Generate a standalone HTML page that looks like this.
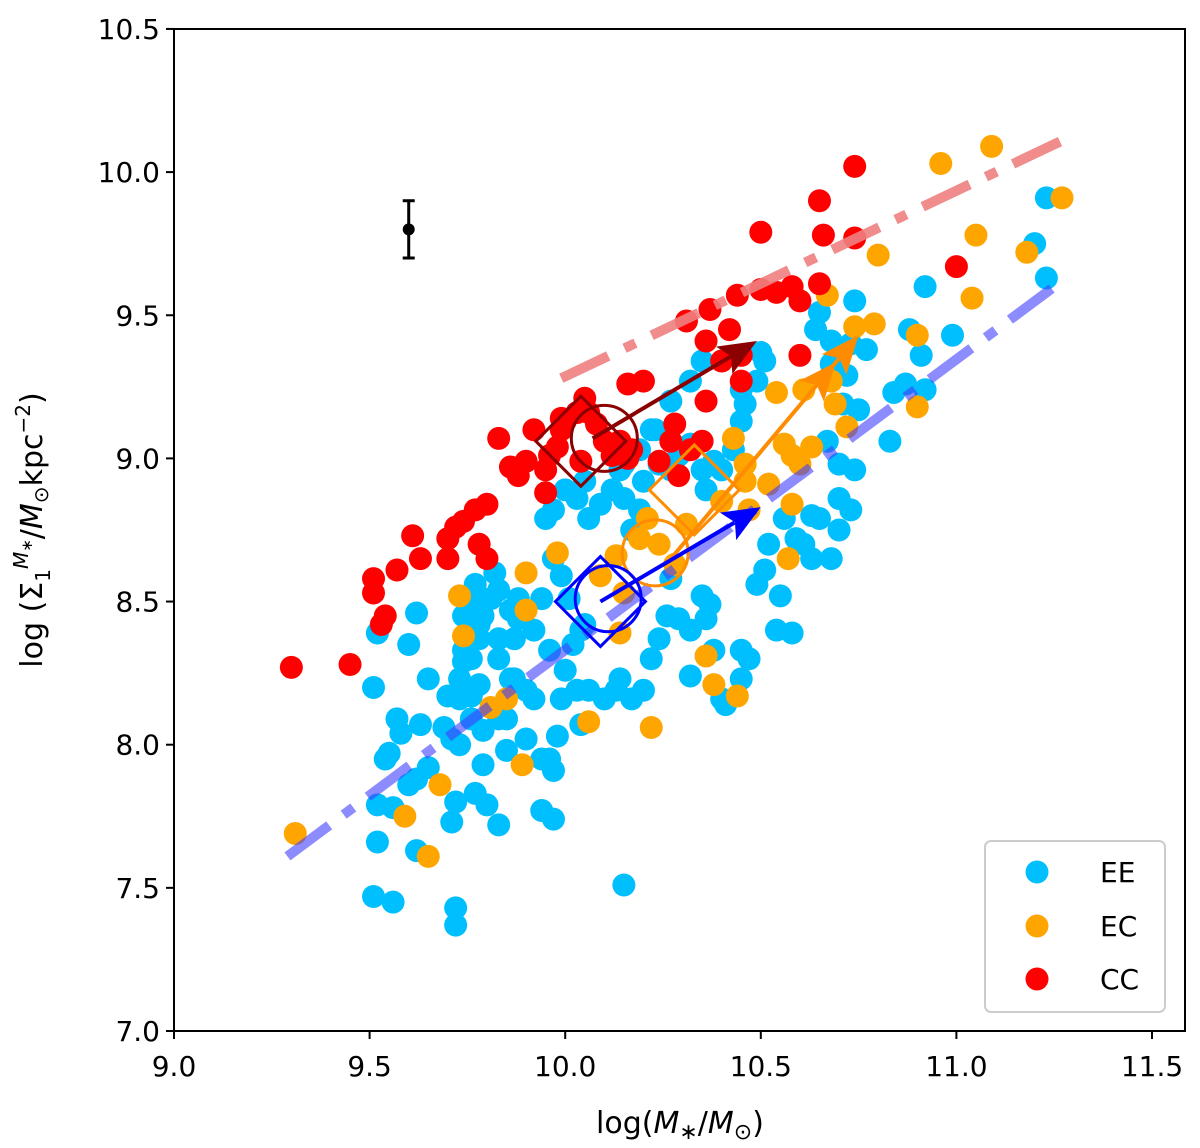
<!DOCTYPE html>
<html><head><meta charset="utf-8"><style>
html,body{margin:0;padding:0;background:#fff;}
svg{display:block;font-family:"DejaVu Sans","Liberation Sans",sans-serif;}
</style></head><body>
<svg id="chart" width="1200" height="1148" viewBox="0 0 1200 1148" xmlns="http://www.w3.org/2000/svg">
<g id="plot"></g>
</svg>
<script>
const xTicks=[9.0,9.5,10.0,10.5,11.0,11.5];
const yTicks=[7.0,7.5,8.0,8.5,9.0,9.5,10.0,10.5];
const ccX=[9.30,9.45,9.51,9.57,9.51,9.54,9.53,9.61,9.63,9.70,9.70,9.72,9.74,9.77,9.80,9.78,9.80,9.83,9.86,9.88,9.90,9.92,9.95,9.95,9.96,9.98,9.99,10.00,10.03,10.05,10.08,10.10,10.04,10.14,10.17,10.16,10.20,10.24,10.28,10.31,10.36,10.37,10.42,10.40,10.45,10.36,10.35,10.32,10.45,10.44,10.50,10.54,10.58,10.60,10.50,10.65,10.60,10.65,10.66,10.74,10.74,11.00,9.99,10.06,10.27,10.29,10.12,10.16];
const ccY=[8.27,8.28,8.58,8.61,8.53,8.45,8.42,8.73,8.65,8.65,8.72,8.76,8.78,8.82,8.84,8.70,8.65,9.07,8.97,8.94,8.99,9.10,8.88,8.96,9.01,9.04,9.10,9.13,9.16,9.21,9.12,9.06,8.99,9.06,9.03,9.26,9.27,8.99,9.12,9.48,9.41,9.52,9.45,9.34,9.27,9.20,9.06,9.03,9.36,9.57,9.59,9.58,9.60,9.55,9.79,9.61,9.36,9.90,9.78,9.77,10.02,9.67,9.14,9.16,9.06,8.94,9.01,9.00];
const ecX=[9.31,9.59,9.65,9.68,9.73,9.74,9.81,9.85,9.89,9.90,9.90,9.98,10.09,10.06,10.14,10.15,10.22,10.19,10.21,10.28,10.31,10.36,10.38,10.44,10.43,10.46,10.47,10.52,10.54,10.56,10.58,10.61,10.63,10.60,10.58,10.68,10.72,10.67,10.74,10.79,10.80,10.90,10.90,10.96,11.05,11.09,11.04,11.18,11.27,10.69,10.57,10.13,10.24,10.46,10.40];
const ecY=[7.69,7.75,7.61,7.86,8.52,8.38,8.13,8.16,7.93,8.60,8.47,8.67,8.59,8.08,8.39,8.53,8.06,8.72,8.79,8.63,8.77,8.31,8.21,8.17,9.07,8.98,8.82,8.91,9.23,9.05,8.84,9.24,9.04,8.98,9.01,9.27,9.11,9.57,9.46,9.47,9.71,9.43,9.18,10.03,9.78,10.09,9.56,9.72,9.91,9.19,8.65,8.66,8.70,8.92,8.85];
const eeX=[9.52,9.51,9.57,9.58,9.54,9.55,9.63,9.56,9.52,9.52,9.60,9.62,9.65,9.51,9.56,9.62,9.72,9.72,9.72,9.71,9.73,9.77,9.79,9.80,9.83,9.79,9.76,9.71,9.69,9.65,9.70,9.73,9.74,9.76,9.78,9.81,9.82,9.77,9.79,9.83,9.83,9.87,9.88,9.86,9.85,9.90,9.92,9.90,9.94,9.97,9.94,9.96,9.98,9.92,9.96,9.99,10.00,10.03,10.02,10.05,10.06,10.04,10.10,10.13,10.14,10.17,10.20,10.22,10.24,10.26,10.27,10.32,10.35,10.36,10.37,10.38,10.32,10.29,10.40,10.41,10.45,10.45,10.47,10.49,10.51,10.56,10.52,10.54,10.58,10.59,10.61,10.63,10.63,10.55,10.68,10.70,10.70,10.65,10.73,10.74,10.67,10.70,10.72,10.68,10.68,10.64,10.71,10.75,10.73,10.65,10.74,10.77,10.83,10.84,10.87,10.88,10.92,10.91,10.99,10.92,11.20,11.23,11.23,9.95,9.97,10.03,10.06,10.09,10.12,10.14,10.15,10.19,10.17,10.20,10.24,10.23,10.27,10.29,10.32,10.35,10.36,10.38,10.40,10.43,10.45,10.46,10.49,10.50,10.51,10.45,10.35,10.32,10.27,10.22,10.19,10.15,10.05,10.00,9.97,9.99,10.01,10.04,9.94,9.88,9.86,9.83,9.76,9.74,9.78,9.78,9.76,9.73,9.85,9.87,9.83,9.74,10.15,9.97,9.60,9.62];
const eeY=[8.39,8.20,8.09,8.04,7.95,7.97,8.07,7.78,7.79,7.66,7.86,7.88,7.92,7.47,7.45,7.63,7.43,7.37,7.80,7.73,8.00,7.83,7.93,7.79,7.72,8.05,8.09,8.02,8.06,8.23,8.17,8.23,8.29,8.30,8.42,8.51,8.60,8.56,8.45,8.37,8.30,8.37,8.44,8.23,8.09,8.19,8.16,8.02,7.95,7.91,7.77,7.95,8.03,8.40,8.33,8.16,8.26,8.19,8.35,8.42,8.19,8.07,8.16,8.19,8.23,8.16,8.19,8.30,8.37,8.45,8.58,8.40,8.52,8.44,8.49,8.33,8.24,8.44,8.16,8.14,8.33,8.23,8.30,8.56,8.61,8.79,8.70,8.40,8.39,8.72,8.70,8.65,8.80,8.52,8.65,8.86,8.75,8.79,8.82,8.96,9.06,8.98,9.29,9.33,9.41,9.45,9.19,9.17,9.40,9.51,9.55,9.38,9.06,9.23,9.26,9.45,9.24,9.36,9.43,9.60,9.75,9.63,9.91,8.79,8.82,8.86,8.79,8.84,8.89,8.96,8.86,8.82,8.75,8.92,8.98,9.10,8.96,9.01,9.05,8.96,8.89,8.99,8.96,9.03,9.13,9.19,9.27,9.37,9.34,9.24,9.34,9.27,9.20,9.10,9.03,8.98,8.92,8.89,8.65,8.59,8.51,8.40,8.51,8.51,8.47,8.54,8.51,8.45,8.37,8.21,8.17,8.16,7.98,8.23,8.09,8.33,7.51,7.74,8.35,8.46];
const ccFitX=[9.99,11.27], ccFitY=[9.28,10.11];
const eeFitX=[9.29,11.27], eeFitY=[7.61,9.62];
const ccArrowX=[10.07,10.49], ccArrowY=[9.07,9.41];
const ecArrowX=[10.27,10.75], ecArrowY=[8.65,9.43];
const eeArrowX=[10.09,10.50], eeArrowY=[8.50,8.83];
const ccMed=[10.04,9.06], ccMean=[10.10,9.07];
const ecMed=[10.33,8.89], ecMean=[10.23,8.67];
const eeMed=[10.09,8.50], eeMean=[10.11,8.51];
const errX=9.6, errY=9.8, errDy=0.1;

const NS="http://www.w3.org/2000/svg";
const L=174,R=1185,T=29,B=1031;
const sx=v=>L+(v-9.0)*391.2;
const sy=v=>B-(v-7.0)*286.3;
const svg=document.getElementById('chart');
const g=document.getElementById('plot');
function mk(tag,at,parent){const e=document.createElementNS(NS,tag);for(const k in at)e.setAttribute(k,at[k]);(parent||g).appendChild(e);return e;}

function dots(xs,ys,col,name){for(let i=0;i<xs.length;i++){const c=mk('circle',{cx:sx(xs[i]),cy:sy(ys[i]),r:11.5,fill:col});

}}
dots(eeX,eeY,'#00bfff','ee-point');
dots(ecX,ecY,'#ffa500','ec-point');
dots(ccX,ccY,'#ff0000','cc-point');

let ln=mk('line',{x1:sx(ccFitX[0]),y1:sy(ccFitY[0]),x2:sx(ccFitX[1]),y2:sy(ccFitY[1]),stroke:'#f08080',"stroke-opacity":0.9,"stroke-width":10,"stroke-dasharray":"52 18 12 18"});


ln=mk('line',{x1:sx(eeFitX[0]),y1:sy(eeFitY[0]),x2:sx(eeFitX[1]),y2:sy(eeFitY[1]),stroke:'#4040ff',"stroke-opacity":0.6,"stroke-width":10,"stroke-dasharray":"52 18 12 18"});



function marks(med,mean,col,name){
  const cx=sx(med[0]),cy=sy(med[1]),r=45;
  const d=mk('polygon',{points:`${cx-r},${cy} ${cx},${cy-r} ${cx+r},${cy} ${cx},${cy+r}`,fill:'none',stroke:col,"stroke-width":3});
  
  
  const c=mk('circle',{cx:sx(mean[0]),cy:sy(mean[1]),r:33,fill:'none',stroke:col,"stroke-width":3});
  
  
}
function arrow(xs,ys,col,name,extra){
  const x1=sx(xs[0]),y1=sy(ys[0]),x2=sx(xs[1]),y2=sy(ys[1]);
  const a=Math.atan2(y2-y1,x2-x1),hl=38,hw=16;
  const grp=mk('g',{});
  
  
  mk('line',{x1:x1,y1:y1,x2:x2-Math.cos(a)*hl*0.8,y2:y2-Math.sin(a)*hl*0.8,stroke:col,"stroke-width":4},grp);
  const heads=extra?[0,-35]:[0];
  heads.forEach(off=>{
    const tx=x2+Math.cos(a)*off,ty=y2+Math.sin(a)*off;
    const bx=tx-Math.cos(a)*hl,by=ty-Math.sin(a)*hl;
    mk('polygon',{points:`${tx},${ty} ${bx-Math.sin(a)*hw},${by+Math.cos(a)*hw} ${bx+Math.cos(a)*8},${by+Math.sin(a)*8} ${bx+Math.sin(a)*hw},${by-Math.cos(a)*hw}`,fill:col},grp);
  });
}
marks(ccMed,ccMean,'#8b0000','cc');
marks(ecMed,ecMean,'#ff8c00','ec');
marks(eeMed,eeMean,'#0000ff','ee');
arrow(ccArrowX,ccArrowY,'#8b0000','cc',false);
arrow(ecArrowX,ecArrowY,'#ff8c00','ec',true);
arrow(eeArrowX,eeArrowY,'#0000ff','ee',false);

// error bar
const eb=mk('g',{});


mk('line',{x1:sx(errX),y1:sy(errY-errDy),x2:sx(errX),y2:sy(errY+errDy),stroke:'#000',"stroke-width":3},eb);
mk('line',{x1:sx(errX)-6,y1:sy(errY-errDy),x2:sx(errX)+6,y2:sy(errY-errDy),stroke:'#000',"stroke-width":3},eb);
mk('line',{x1:sx(errX)-6,y1:sy(errY+errDy),x2:sx(errX)+6,y2:sy(errY+errDy),stroke:'#000',"stroke-width":3},eb);
mk('circle',{cx:sx(errX),cy:sy(errY),r:6,fill:'#000'},eb);

// axes frame
const fr=mk('rect',{x:L,y:T,width:R-L,height:B-T,fill:'none',stroke:'#000',"stroke-width":2},svg);


xTicks.forEach(v=>{
  const x=sx(v);
  mk('line',{x1:x,y1:B,x2:x,y2:B+8,stroke:'#000',"stroke-width":2},svg);
  const t=mk('text',{x:x,y:B+45,"text-anchor":"middle","font-size":28,fill:'#000'},svg);
  t.textContent=v.toFixed(1);
  
  
});
yTicks.forEach(v=>{
  const y=sy(v);
  mk('line',{x1:L-8,y1:y,x2:L,y2:y,stroke:'#000',"stroke-width":2},svg);
  const t=mk('text',{x:L-14,y:y+10,"text-anchor":"end","font-size":28,fill:'#000'},svg);
  t.textContent=v.toFixed(1);
  
  
});
</script>
<svg style="position:absolute;left:0;top:0" width="1200" height="1148" xmlns="http://www.w3.org/2000/svg" font-family="DejaVu Sans, Liberation Sans, sans-serif">
<text x="680" y="1133" text-anchor="middle" font-size="30">log(<tspan font-style="italic">M</tspan><tspan font-size="22" dy="6">∗</tspan><tspan dy="-6">/</tspan><tspan font-style="italic">M</tspan><tspan font-size="22" dy="6">⊙</tspan><tspan dy="-6">)</tspan></text>
<text transform="translate(42,530) rotate(-90)" text-anchor="middle" font-size="30">log (Σ<tspan font-size="20" dy="8">1</tspan><tspan font-size="20" dy="-22" font-style="italic">M</tspan><tspan font-size="15" dy="4">∗</tspan><tspan dy="10">/</tspan><tspan font-style="italic">M</tspan><tspan font-size="20" dy="6">⊙</tspan><tspan dy="-6">kpc</tspan><tspan font-size="20" dy="-12">−2</tspan><tspan dy="12">)</tspan></text>
<g>
<rect x="985" y="841" width="180" height="171" rx="6" fill="#fff" stroke="#ccc" stroke-width="2"/>
<g><circle cx="1037" cy="872" r="11.5" fill="#00bfff"/><text x="1100" y="882" font-size="28">EE</text></g>
<g><circle cx="1037" cy="926" r="11.5" fill="#ffa500"/><text x="1100" y="936" font-size="28">EC</text></g>
<g><circle cx="1037" cy="979" r="11.5" fill="#ff0000"/><text x="1100" y="989" font-size="28">CC</text></g>
</g>
</svg>
</body></html>
